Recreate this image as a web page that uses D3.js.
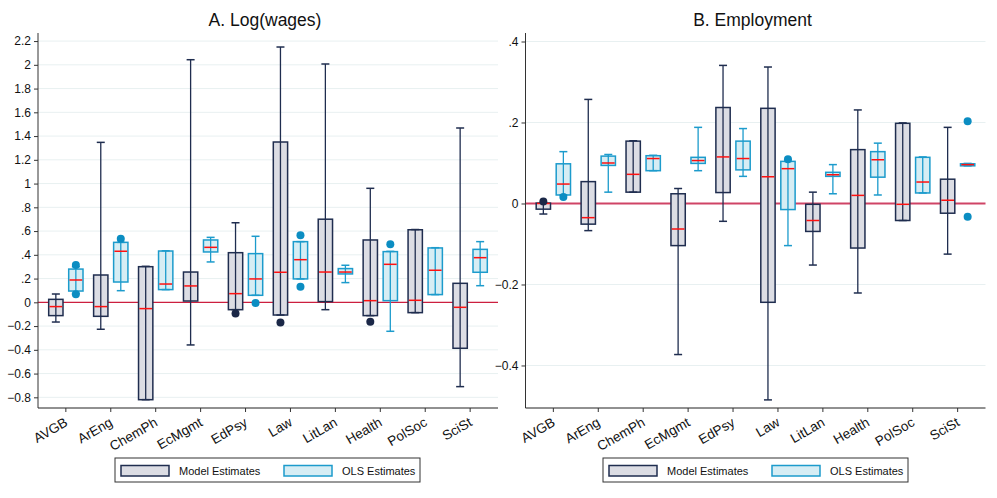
<!DOCTYPE html>
<html>
<head>
<meta charset="utf-8">
<script src="https://cdn.jsdelivr.net/npm/d3@7"></script>
<style>
  body { margin: 0; background: #fff; }
  svg { font-family: "Liberation Sans", Arial, sans-serif; }
</style>
</head>
<body>
<svg id="vis-svg" width="997" height="498"></svg>
<script>
// categories (fields)
var categories = ["AVGB", "ArEng", "ChemPh", "EcMgmt", "EdPsy", "Law", "LitLan", "Health", "PolSoc", "SciSt"];

// panel A: log(wages) -- [lower whisker, q1, median, q3, upper whisker]
var wageModelLo  = [-0.166, -0.227, -0.820, -0.359, -0.062, -0.107, -0.062, -0.112, -0.087, -0.710];
var wageModelQ1  = [-0.112, -0.118, -0.820,  0.011, -0.062, -0.107,  0.006, -0.112, -0.087, -0.387];
var wageModelMed = [-0.036, -0.036, -0.053,  0.138,  0.073,  0.253,  0.255,  0.014,  0.017, -0.042];
var wageModelQ3  = [ 0.025,  0.230,  0.300,  0.255,  0.418,  1.350,  0.700,  0.525,  0.611,  0.160];
var wageModelHi  = [ 0.070,  1.347,  0.303,  2.043,  0.670,  2.150,  2.007,  0.960,  0.613,  1.468];
var wageModelOut = [[], [], [], [], [-0.095], [-0.171], [], [-0.163], [], []];

var wageOlsLo  = [0.075, 0.098, 0.107, 0.340, 0.059, 0.197, 0.166, -0.244, 0.065, 0.140];
var wageOlsQ1  = [0.095, 0.171, 0.107, 0.424, 0.059, 0.197, 0.239,  0.014, 0.065, 0.253];
var wageOlsMed = [0.188, 0.430, 0.154, 0.463, 0.197, 0.359, 0.255,  0.320, 0.270, 0.376];
var wageOlsQ3  = [0.280, 0.505, 0.432, 0.525, 0.410, 0.511, 0.284,  0.427, 0.458, 0.446];
var wageOlsHi  = [0.300, 0.505, 0.434, 0.547, 0.556, 0.511, 0.312,  0.429, 0.460, 0.511];
var wageOlsOut = [[0.314, 0.067], [0.535], [], [], [-0.006], [0.565, 0.132], [], [0.488], [], []];

// panel B: employment
var empModelLo  = [-0.026, -0.067, 0.028, -0.373, -0.044, -0.485, -0.152, -0.221, -0.042, -0.125];
var empModelQ1  = [-0.014, -0.051, 0.028, -0.104,  0.027, -0.244, -0.069, -0.110, -0.042, -0.024];
var empModelMed = [ 0.000, -0.035, 0.072, -0.063,  0.115,  0.066, -0.042,  0.020, -0.002,  0.008];
var empModelQ3  = [ 0.001,  0.054, 0.154,  0.024,  0.237,  0.235, -0.002,  0.133,  0.198,  0.060];
var empModelHi  = [ 0.001,  0.257, 0.155,  0.037,  0.341,  0.337,  0.028,  0.231,  0.199,  0.188];
var empModelOut = [[0.005], [], [], [], [], [], [], [], [], []];

var empOlsLo  = [0.021, 0.028, 0.081, 0.081, 0.067, -0.104, 0.024, 0.021, 0.026, 0.093];
var empOlsQ1  = [0.021, 0.094, 0.081, 0.099, 0.083, -0.015, 0.067, 0.065, 0.026, 0.093];
var empOlsMed = [0.048, 0.100, 0.111, 0.106, 0.111,  0.086, 0.071, 0.108, 0.053, 0.096];
var empOlsQ3  = [0.098, 0.117, 0.118, 0.114, 0.154,  0.104, 0.077, 0.128, 0.114, 0.098];
var empOlsHi  = [0.128, 0.121, 0.119, 0.188, 0.185,  0.104, 0.096, 0.149, 0.115, 0.099];
var empOlsOut = [[0.016], [], [], [], [], [0.109], [], [], [], [0.203, -0.033]];

var wageTicks = [-0.8, -0.6, -0.4, -0.2, 0, 0.2, 0.4, 0.6, 0.8, 1, 1.2, 1.4, 1.6, 1.8, 2, 2.2];
var empTicks = [-0.4, -0.2, 0, 0.2, 0.4];

var seriesNames = ["Model Estimates", "OLS Estimates"];
var fills = ["#dcdde4", "#d6edf4"];
var strokes = ["#1f2d4f", "#1c9bcc"];
var dotColors = ["#1a2747", "#0b8dc2"];

function build(lo, q1, med, q3, hi, out) {
  return categories.map(function(c, i) {
    return {cat: c, lo: lo[i], q1: q1[i], med: med[i], q3: q3[i], hi: hi[i], out: out[i]};
  });
}

var panels = [
  {
    title: "A. Log(wages)",
    x0: 38, x1: 498,
    domain: [-0.89, 2.268],
    ticks: wageTicks,
    legendX: 115,
    zeroColor: "#cc1f3f", zeroWidth: 1.3,
    series: [
      build(wageModelLo, wageModelQ1, wageModelMed, wageModelQ3, wageModelHi, wageModelOut),
      build(wageOlsLo, wageOlsQ1, wageOlsMed, wageOlsQ3, wageOlsHi, wageOlsOut)
    ]
  },
  {
    title: "B. Employment",
    x0: 525.5, x1: 985.5,
    domain: [-0.505, 0.421],
    ticks: empTicks,
    legendX: 603,
    zeroColor: "#cf4466", zeroWidth: 1.8,
    series: [
      build(empModelLo, empModelQ1, empModelMed, empModelQ3, empModelHi, empModelOut),
      build(empOlsLo, empOlsQ1, empOlsMed, empOlsQ3, empOlsHi, empOlsOut)
    ]
  }
];

var plotTop = 33, plotBottom = 408;

// stata-like tick labels: .2, -.4, 0
function fmt(v) {
  var s = d3.format("~g")(+v.toFixed(2));
  return s.replace(/^0\./, ".").replace(/^-0\./, "-.");
}

var svg = d3.select("#vis-svg");

panels.forEach(function(p) {
  var g = svg.append("g");

  var x = d3.scaleBand()
    .domain(categories)
    .range([p.x0, p.x1])
    .paddingInner(0)
    .paddingOuter(0.12);

  var sub = d3.scaleBand()
    .domain([0, 1])
    .range([0, x.bandwidth()])
    .paddingInner(0.285)
    .paddingOuter(0.265);

  var y = d3.scaleLinear()
    .domain(p.domain)
    .range([plotBottom, plotTop]);

  // title
  g.append("text")
    .attr("x", (p.x0 + p.x1) / 2 - 3)
    .attr("y", 26)
    .attr("text-anchor", "middle")
    .style("font-size", "17.5px")
    .style("fill", "#111")
    .text(p.title);

  // gridlines
  g.append("g")
    .selectAll("line")
    .data(p.ticks.filter(function(t) { return t !== 0; }))
    .enter()
    .append("line")
    .attr("x1", p.x0)
    .attr("x2", p.x1)
    .attr("y1", function(d) { return y(d); })
    .attr("y2", function(d) { return y(d); })
    .style("stroke", "#e8f0f1")
    .style("stroke-width", 1);

  // zero line
  g.append("line")
    .attr("x1", p.x0)
    .attr("x2", p.x1)
    .attr("y1", y(0))
    .attr("y2", y(0))
    .style("stroke", p.zeroColor)
    .style("stroke-width", p.zeroWidth);

  // boxes
  p.series.forEach(function(data, s) {
    var w = sub.bandwidth();
    var cx = function(d) { return x(d.cat) + sub(s) + w / 2; };
    var grp = g.append("g");

    grp.selectAll("rect")
      .data(data)
      .enter()
      .append("rect")
      .attr("x", function(d) { return x(d.cat) + sub(s); })
      .attr("y", function(d) { return y(d.q3); })
      .attr("width", w)
      .attr("height", function(d) { return Math.max(1, y(d.q1) - y(d.q3)); })
      .style("fill", fills[s])
      .style("stroke", strokes[s])
      .style("stroke-width", 1.5);

    grp.selectAll(".whisk")
      .data(data)
      .enter()
      .append("line")
      .attr("class", "whisk")
      .attr("x1", cx)
      .attr("x2", cx)
      .attr("y1", function(d) { return y(d.hi); })
      .attr("y2", function(d) { return y(d.lo); })
      .style("stroke", strokes[s])
      .style("stroke-width", 1.3);

    ["hi", "lo"].forEach(function(k) {
      grp.selectAll(".cap-" + k)
        .data(data)
        .enter()
        .append("line")
        .attr("class", "cap-" + k)
        .attr("x1", function(d) { return cx(d) - 4; })
        .attr("x2", function(d) { return cx(d) + 4; })
        .attr("y1", function(d) { return y(d[k]); })
        .attr("y2", function(d) { return y(d[k]); })
        .style("stroke", strokes[s])
        .style("stroke-width", 1.5);
    });

    grp.selectAll(".med")
      .data(data)
      .enter()
      .append("line")
      .attr("class", "med")
      .attr("x1", function(d) { return x(d.cat) + sub(s) + 0.8; })
      .attr("x2", function(d) { return x(d.cat) + sub(s) + w - 0.8; })
      .attr("y1", function(d) { return y(d.med); })
      .attr("y2", function(d) { return y(d.med); })
      .style("stroke", "#ff1010")
      .style("stroke-width", 1.5);

    var pts = [];
    data.forEach(function(d) {
      d.out.forEach(function(v) { pts.push({cat: d.cat, v: v}); });
    });
    grp.selectAll("circle")
      .data(pts)
      .enter()
      .append("circle")
      .attr("cx", cx)
      .attr("cy", function(d) { return y(d.v); })
      .attr("r", 4)
      .style("fill", dotColors[s]);
  });

  // y axis
  var yAxis = g.append("g")
    .attr("transform", "translate(" + p.x0 + ",0)")
    .call(d3.axisLeft(y).tickValues(p.ticks).tickFormat(fmt).tickSize(4).tickPadding(3));
  yAxis.select(".domain").attr("d", "M0," + plotTop + "V" + plotBottom).style("stroke", "#333");
  yAxis.selectAll(".tick line").style("stroke", "#333");
  yAxis.selectAll("text").style("font-size", "12px").style("fill", "#111");

  // x axis
  var xAxis = g.append("g")
    .attr("transform", "translate(0," + plotBottom + ")")
    .call(d3.axisBottom(x).tickSize(4).tickPadding(2));
  xAxis.select(".domain").attr("d", "M" + p.x0 + ",0H" + p.x1).style("stroke", "#222");
  xAxis.selectAll(".tick line").style("stroke", "#333");
  xAxis.selectAll("text")
    .style("font-size", "13.5px")
    .style("fill", "#111")
    .attr("text-anchor", "end")
    .attr("dx", "-0.45em")
    .attr("dy", "0.75em")
    .attr("transform", "rotate(-30)");

  // legend
  var lg = g.append("g").attr("transform", "translate(" + p.legendX + ",458)");
  lg.append("rect")
    .attr("width", 305)
    .attr("height", 24)
    .style("fill", "#fff")
    .style("stroke", "#333")
    .style("stroke-width", 1);
  seriesNames.forEach(function(name, s) {
    var off = s * 163;
    lg.append("rect")
      .attr("x", 6 + off)
      .attr("y", 7.5)
      .attr("width", 48)
      .attr("height", 10.5)
      .style("fill", fills[s])
      .style("stroke", strokes[s])
      .style("stroke-width", 1.5);
    lg.append("text")
      .attr("x", 64 + off)
      .attr("y", 16.5)
      .style("font-size", "11px")
      .style("fill", "#111")
      .text(name);
  });
});
</script>
</body>
</html>
